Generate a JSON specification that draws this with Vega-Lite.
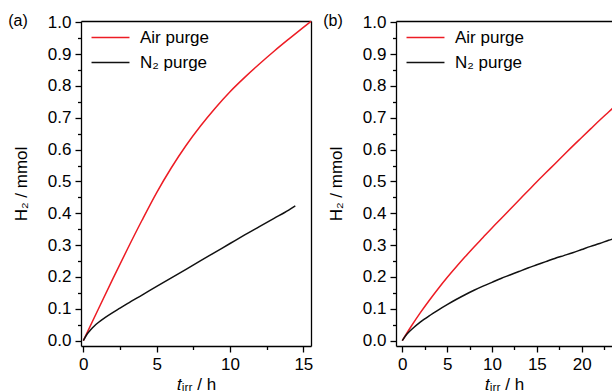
{
  "$schema": "https://vega.github.io/schema/vega-lite/v6.json",
  "padding": {"left": 8, "top": 13, "right": 0, "bottom": 0},
  "spacing": 9,
  "config": {
    "font": "Liberation Sans",
    "view": {"stroke": null},
    "axis": {
      "domainColor": "#000", "domainWidth": 1.3, "tickColor": "#000", "tickWidth": 1.3,
      "labelColor": "#000", "titleColor": "#000", "labelFont": "Liberation Sans", "labelFontSize": 17,
      "titleFont": "Liberation Sans", "titleFontSize": 17, "titleFontWeight": "normal", "grid": false,
      "labelOverlap": false, "labelFlush": false, "labelBound": false
    },
    "legend": {
      "orient": "none", "legendX": 19, "legendY": 6, "title": null, "symbolType": "M-2,0H2", "symbolSize": 360,
      "symbolStrokeWidth": 1.5, "labelFontSize": 17, "labelFont": "Liberation Sans", "labelColor": "#000",
      "labelOffset": 19, "rowPadding": 6, "padding": 0
    },
    "title": {"fontSize": 16, "fontWeight": "normal", "font": "Liberation Sans", "color": "#000"}
  },
  "resolve": {"scale": {"color": "independent"}},
  "datasets": {
    "a": [
      {"t": 0, "h2": 0, "series": "Air purge"},
      {"t": 1, "h2": 0.097, "series": "Air purge"},
      {"t": 2, "h2": 0.193, "series": "Air purge"},
      {"t": 3, "h2": 0.287, "series": "Air purge"},
      {"t": 4, "h2": 0.378, "series": "Air purge"},
      {"t": 5, "h2": 0.465, "series": "Air purge"},
      {"t": 6, "h2": 0.543, "series": "Air purge"},
      {"t": 7, "h2": 0.613, "series": "Air purge"},
      {"t": 8, "h2": 0.675, "series": "Air purge"},
      {"t": 9, "h2": 0.731, "series": "Air purge"},
      {"t": 10, "h2": 0.782, "series": "Air purge"},
      {"t": 11, "h2": 0.827, "series": "Air purge"},
      {"t": 12, "h2": 0.869, "series": "Air purge"},
      {"t": 13, "h2": 0.909, "series": "Air purge"},
      {"t": 14, "h2": 0.947, "series": "Air purge"},
      {"t": 15, "h2": 0.984, "series": "Air purge"},
      {"t": 15.52, "h2": 1.003, "series": "Air purge"},
      {"t": 0, "h2": 0, "series": "N₂ purge"},
      {"t": 0.25, "h2": 0.02, "series": "N₂ purge"},
      {"t": 0.5, "h2": 0.034, "series": "N₂ purge"},
      {"t": 0.75, "h2": 0.046, "series": "N₂ purge"},
      {"t": 1, "h2": 0.056, "series": "N₂ purge"},
      {"t": 1.5, "h2": 0.073, "series": "N₂ purge"},
      {"t": 2, "h2": 0.088, "series": "N₂ purge"},
      {"t": 2.5, "h2": 0.102, "series": "N₂ purge"},
      {"t": 3, "h2": 0.116, "series": "N₂ purge"},
      {"t": 4, "h2": 0.143, "series": "N₂ purge"},
      {"t": 5, "h2": 0.17, "series": "N₂ purge"},
      {"t": 6, "h2": 0.197, "series": "N₂ purge"},
      {"t": 7, "h2": 0.224, "series": "N₂ purge"},
      {"t": 8, "h2": 0.251, "series": "N₂ purge"},
      {"t": 9, "h2": 0.278, "series": "N₂ purge"},
      {"t": 10, "h2": 0.305, "series": "N₂ purge"},
      {"t": 11, "h2": 0.332, "series": "N₂ purge"},
      {"t": 12, "h2": 0.358, "series": "N₂ purge"},
      {"t": 13, "h2": 0.384, "series": "N₂ purge"},
      {"t": 14, "h2": 0.41, "series": "N₂ purge"},
      {"t": 14.45, "h2": 0.423, "series": "N₂ purge"}
    ],
    "b": [
      {"t": 0, "h2": 0, "series": "Air purge"},
      {"t": 1, "h2": 0.045, "series": "Air purge"},
      {"t": 2, "h2": 0.087, "series": "Air purge"},
      {"t": 3, "h2": 0.126, "series": "Air purge"},
      {"t": 4, "h2": 0.163, "series": "Air purge"},
      {"t": 5, "h2": 0.198, "series": "Air purge"},
      {"t": 6, "h2": 0.231, "series": "Air purge"},
      {"t": 7, "h2": 0.263, "series": "Air purge"},
      {"t": 8, "h2": 0.294, "series": "Air purge"},
      {"t": 9, "h2": 0.324, "series": "Air purge"},
      {"t": 10, "h2": 0.354, "series": "Air purge"},
      {"t": 11, "h2": 0.383, "series": "Air purge"},
      {"t": 12, "h2": 0.412, "series": "Air purge"},
      {"t": 13, "h2": 0.441, "series": "Air purge"},
      {"t": 14, "h2": 0.47, "series": "Air purge"},
      {"t": 15, "h2": 0.499, "series": "Air purge"},
      {"t": 16, "h2": 0.527, "series": "Air purge"},
      {"t": 17, "h2": 0.555, "series": "Air purge"},
      {"t": 18, "h2": 0.583, "series": "Air purge"},
      {"t": 19, "h2": 0.611, "series": "Air purge"},
      {"t": 20, "h2": 0.638, "series": "Air purge"},
      {"t": 21, "h2": 0.665, "series": "Air purge"},
      {"t": 22, "h2": 0.692, "series": "Air purge"},
      {"t": 23, "h2": 0.718, "series": "Air purge"},
      {"t": 24, "h2": 0.744, "series": "Air purge"},
      {"t": 25, "h2": 0.77, "series": "Air purge"},
      {"t": 0, "h2": 0, "series": "N₂ purge"},
      {"t": 0.5, "h2": 0.02, "series": "N₂ purge"},
      {"t": 1, "h2": 0.034, "series": "N₂ purge"},
      {"t": 2, "h2": 0.058, "series": "N₂ purge"},
      {"t": 3, "h2": 0.078, "series": "N₂ purge"},
      {"t": 4, "h2": 0.096, "series": "N₂ purge"},
      {"t": 5, "h2": 0.113, "series": "N₂ purge"},
      {"t": 6, "h2": 0.129, "series": "N₂ purge"},
      {"t": 7, "h2": 0.144, "series": "N₂ purge"},
      {"t": 8, "h2": 0.158, "series": "N₂ purge"},
      {"t": 9, "h2": 0.171, "series": "N₂ purge"},
      {"t": 10, "h2": 0.183, "series": "N₂ purge"},
      {"t": 11, "h2": 0.195, "series": "N₂ purge"},
      {"t": 12, "h2": 0.206, "series": "N₂ purge"},
      {"t": 13, "h2": 0.217, "series": "N₂ purge"},
      {"t": 14, "h2": 0.228, "series": "N₂ purge"},
      {"t": 15, "h2": 0.238, "series": "N₂ purge"},
      {"t": 16, "h2": 0.248, "series": "N₂ purge"},
      {"t": 17, "h2": 0.258, "series": "N₂ purge"},
      {"t": 18, "h2": 0.267, "series": "N₂ purge"},
      {"t": 19, "h2": 0.276, "series": "N₂ purge"},
      {"t": 20, "h2": 0.286, "series": "N₂ purge"},
      {"t": 21, "h2": 0.296, "series": "N₂ purge"},
      {"t": 22, "h2": 0.305, "series": "N₂ purge"},
      {"t": 23, "h2": 0.315, "series": "N₂ purge"},
      {"t": 24, "h2": 0.324, "series": "N₂ purge"},
      {"t": 25, "h2": 0.333, "series": "N₂ purge"}
    ]
  },
  "hconcat": [
    {
      "width": 230,
      "height": 325,
      "data": {"name": "a"},
      "title": {"text": "(a)", "orient": "left", "anchor": "end", "angle": 0, "align": "right", "baseline": "middle", "frame": "group", "offset": -12, "dx": 23},
      "layer": [
        {
          "mark": {"type": "line", "strokeWidth": 1.5, "interpolate": "monotone"},
          "encoding": {
            "x": {"field": "t", "type": "quantitative",
              "scale": {"domain": [-0.16, 15.52], "nice": false, "zero": false},
              "axis": {"title": "𝑡ᵢᵣᵣ / h", "values": [0, 2.5, 5, 7.5, 10, 12.5, 15],
                "labelExpr": "datum.value % 5 == 0 ? format(datum.value, 'd') : ''",
                "tickSize": {"condition": {"test": "datum.value % 5 == 0", "value": 6}, "value": 3.5},
                "labelPadding": 4, "titlePadding": 4}},
            "y": {"field": "h2", "type": "quantitative",
              "scale": {"domain": [-0.017, 1.004], "nice": false, "zero": false},
              "axis": {"title": "H₂ / mmol", "values": [0, 0.05, 0.1, 0.15, 0.2, 0.25, 0.3, 0.35, 0.4, 0.45, 0.5, 0.55, 0.6, 0.65, 0.7, 0.75, 0.8, 0.85, 0.9, 0.95, 1.0],
                "labelExpr": "abs(datum.value*10 - round(datum.value*10)) < 0.001 ? format(datum.value, '.1f') : ''",
                "tickSize": {"condition": {"test": "abs(datum.value*10 - round(datum.value*10)) < 0.001", "value": 6}, "value": 3.5},
                "labelPadding": 4, "titlePadding": 17}},
            "color": {"field": "series", "type": "nominal",
              "scale": {"domain": ["Air purge", "N₂ purge"], "range": ["#ed1c24", "#111111"]}}
          }
        },
        {
          "mark": {"type": "line", "opacity": 0},
          "encoding": {
            "x": {"field": "t", "type": "quantitative", "axis": {"orient": "top", "labels": false, "ticks": false, "title": null}},
            "y": {"field": "h2", "type": "quantitative", "axis": {"orient": "right", "labels": false, "ticks": false, "title": null}},
            "detail": {"field": "series"}
          }
        }
      ],
      "resolve": {"axis": {"x": "independent", "y": "independent"}}
    },
    {
      "width": 216,
      "height": 325,
      "data": {"name": "b"},
      "title": {"text": "(b)", "orient": "left", "anchor": "end", "angle": 0, "align": "right", "baseline": "middle", "frame": "group", "offset": -12, "dx": 23},
      "layer": [
        {
          "mark": {"type": "line", "strokeWidth": 1.5, "interpolate": "monotone", "clip": true},
          "encoding": {
            "x": {"field": "t", "type": "quantitative",
              "scale": {"domain": [-0.7, 23.38], "nice": false, "zero": false},
              "axis": {"title": "𝑡ᵢᵣᵣ / h", "values": [0, 2.5, 5, 7.5, 10, 12.5, 15, 17.5, 20, 22.5],
                "labelExpr": "datum.value % 5 == 0 ? format(datum.value, 'd') : ''",
                "tickSize": {"condition": {"test": "datum.value % 5 == 0", "value": 6}, "value": 3.5},
                "labelPadding": 4, "titlePadding": 4}},
            "y": {"field": "h2", "type": "quantitative",
              "scale": {"domain": [-0.017, 1.004], "nice": false, "zero": false},
              "axis": {"title": "H₂ / mmol", "values": [0, 0.05, 0.1, 0.15, 0.2, 0.25, 0.3, 0.35, 0.4, 0.45, 0.5, 0.55, 0.6, 0.65, 0.7, 0.75, 0.8, 0.85, 0.9, 0.95, 1.0],
                "labelExpr": "abs(datum.value*10 - round(datum.value*10)) < 0.001 ? format(datum.value, '.1f') : ''",
                "tickSize": {"condition": {"test": "abs(datum.value*10 - round(datum.value*10)) < 0.001", "value": 6}, "value": 3.5},
                "labelPadding": 4, "titlePadding": 17}},
            "color": {"field": "series", "type": "nominal",
              "scale": {"domain": ["Air purge", "N₂ purge"], "range": ["#ed1c24", "#111111"]}}
          }
        },
        {
          "mark": {"type": "line", "opacity": 0, "clip": true},
          "encoding": {
            "x": {"field": "t", "type": "quantitative", "axis": {"orient": "top", "labels": false, "ticks": false, "title": null}},
            "y": {"field": "h2", "type": "quantitative", "axis": null},
            "detail": {"field": "series"}
          }
        }
      ],
      "resolve": {"axis": {"x": "independent", "y": "independent"}}
    }
  ]
}
